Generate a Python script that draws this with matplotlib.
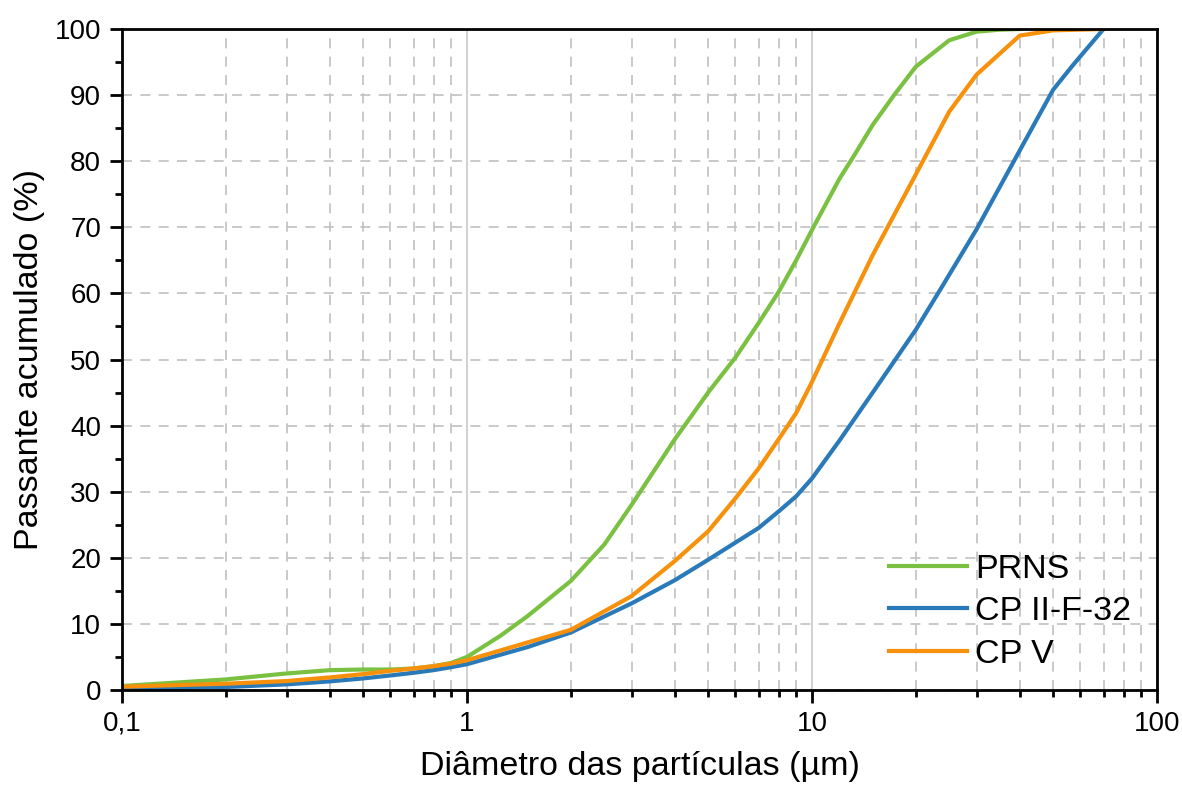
"""
Granulometric curves (cumulative passing) for PRNS, CP II-F-32 and CP V.
"""

import matplotlib.pyplot as plt
from matplotlib.ticker import FixedLocator, FixedFormatter, LogLocator, NullFormatter, MultipleLocator

plt.rcParams['font.family'] = ['Liberation Sans', 'DejaVu Sans']

# values
prns_d = [0.1, 0.2, 0.3, 0.4, 0.5, 0.6, 0.7, 0.8, 0.9, 1.0, 1.25, 1.5, 2, 2.5, 3, 4, 5, 6, 7, 8, 9,
          10, 12, 13.3, 15, 17.3, 20, 25, 30, 35, 40]
prns_p = [0.6, 1.6, 2.5, 3.0, 3.1, 3.1, 3.25, 3.6, 4.1, 5.0, 8.2, 11.2, 16.5, 22.0, 28.0, 37.9, 45.0,
          50.3, 55.5, 60.2, 65.0, 69.6, 77.3, 81.0, 85.5, 90.0, 94.3, 98.3, 99.6, 99.9, 100.0]

cp2_d = [0.1, 0.2, 0.3, 0.4, 0.5, 0.6, 0.7, 0.8, 0.9, 1.0, 1.5, 2, 3, 4, 5, 6, 7, 8, 9, 10,
         12, 15, 20, 23.5, 30, 40, 50, 57, 70]
cp2_p = [0.2, 0.45, 0.85, 1.3, 1.75, 2.2, 2.6, 3.0, 3.45, 3.9, 6.5, 8.7, 13.1, 16.6, 19.7, 22.3,
         24.5, 27.0, 29.3, 32.0, 37.7, 45.0, 54.5, 60.5, 69.7, 81.6, 90.8, 94.5, 100.0]

cpv_d = [0.1, 0.2, 0.3, 0.4, 0.5, 0.6, 0.7, 0.8, 0.9, 1.0, 1.5, 2, 3, 4, 5, 6, 7, 8, 9, 10,
         12, 15, 20, 25, 30, 40, 50, 70]
cpv_p = [0.5, 0.95, 1.35, 1.9, 2.4, 2.9, 3.25, 3.6, 4.0, 4.5, 7.2, 9.1, 14.2, 19.5, 24.0, 29.0,
         33.5, 37.9, 41.9, 46.6, 55.4, 65.8, 78.0, 87.5, 93.1, 99.0, 99.8, 100.0]

fig = plt.figure(figsize=(11.82, 7.93), dpi=100)
ax = fig.add_axes([0.1032, 0.1299, 0.8756, 0.8335])

ax.plot(prns_d, prns_p, color='#7ac142', lw=3, label='PRNS')
ax.plot(cp2_d, cp2_p, color='#2a7ab9', lw=3, label='CP II-F-32')
ax.plot(cpv_d, cpv_p, color='#f7900a', lw=3, label='CP V')

ax.set_xscale('log')
ax.set_xlim(0.1, 100)
ax.set_ylim(0, 100)

ax.xaxis.set_major_locator(FixedLocator([0.1, 1, 10, 100]))
ax.xaxis.set_major_formatter(FixedFormatter(['0,1', '1', '10', '100']))
ax.xaxis.set_minor_locator(LogLocator(base=10, subs=range(2, 10)))
ax.xaxis.set_minor_formatter(NullFormatter())
ax.yaxis.set_major_locator(MultipleLocator(10))
ax.yaxis.set_minor_locator(MultipleLocator(5))

ax.tick_params(which='major', direction='out', length=9, width=2, labelsize=20, pad=6)
ax.tick_params(which='minor', direction='out', length=5, width=2)
for s in ax.spines.values():
    s.set_linewidth(2)

ax.grid(True, axis='x', which='major', color='#c8c8c8', ls='-', lw=1.2)
ax.grid(True, axis='x', which='minor', color='#c0c0c0', ls=(0, (6, 5)), lw=1.2)
ax.grid(True, axis='y', which='major', color='#c0c0c0', ls=(0, (6, 5)), lw=1.2)
ax.set_axisbelow(True)

ax.set_xlabel('Diâmetro das partículas (µm)', fontsize=24.5, labelpad=10)
ax.set_ylabel('Passante acumulado (%)', fontsize=24.5, labelpad=7)

ax.legend(loc='lower right', frameon=False, fontsize=24.5, handlelength=2.3,
          labelspacing=0.34, handletextpad=0.25, bbox_to_anchor=(1.005, -0.016))

fig.savefig('out.png', dpi=100)
